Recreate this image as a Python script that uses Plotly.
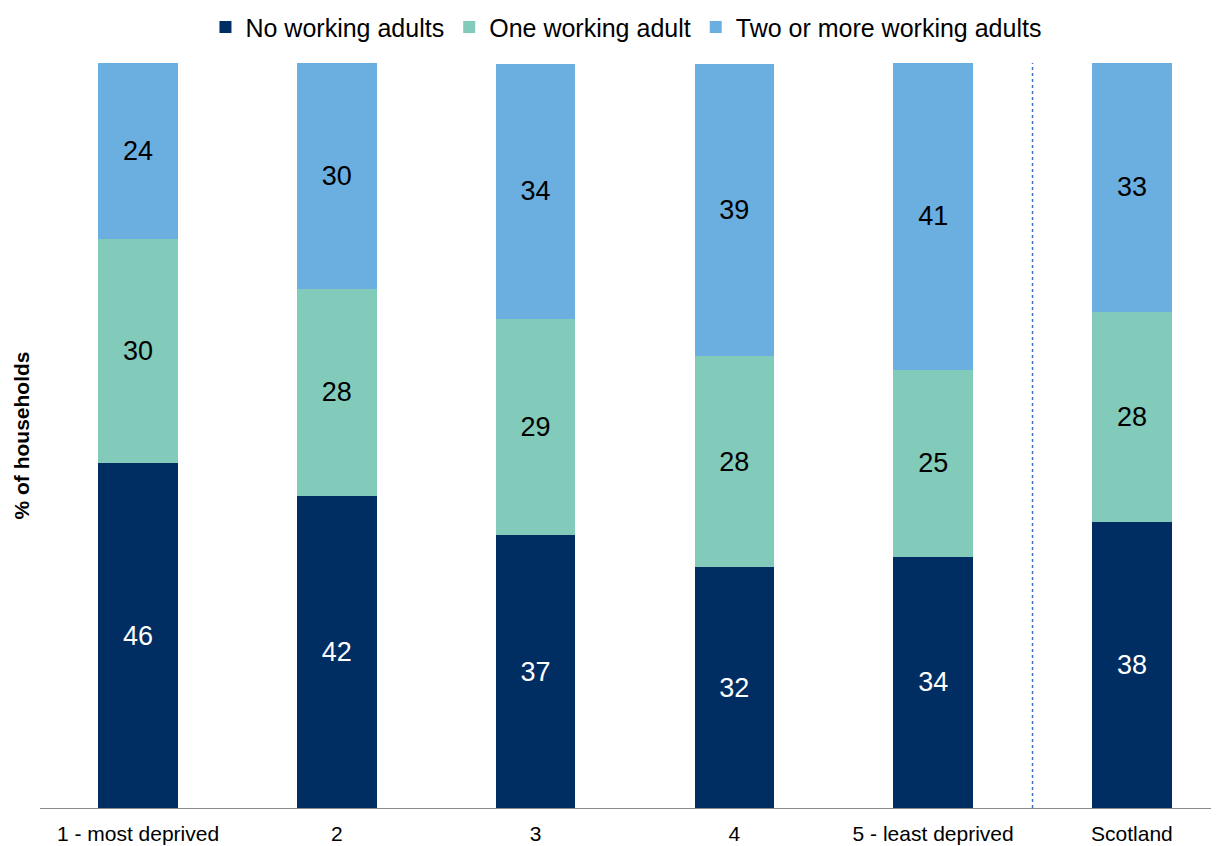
import plotly.graph_objects as go

categories = ["1 - most deprived", "2", "3", "4", "5 - least deprived", "Scotland"]
no_working = [46.3, 41.9, 36.6, 32.3, 33.7, 38.4]
one_working = [30.1, 27.8, 29.1, 28.4, 25.1, 28.2]
two_plus_working = [23.6, 30.3, 34.2, 39.2, 41.2, 33.4]

series = [
    ("No working adults", no_working, "#002D62", "white"),
    ("One working adult", one_working, "#82CAB9", "black"),
    ("Two or more working adults", two_plus_working, "#6AAFE0", "black"),
]

fig = go.Figure()
for name, vals, color, tcolor in series:
    fig.add_trace(go.Bar(
        name=name, x=list(range(len(categories))), y=vals,
        marker=dict(color=color, line=dict(width=0)),
        width=0.40,
        texttemplate="%{y:.0f}", textposition="inside",
        insidetextanchor="middle", textangle=0,
        textfont=dict(family="Liberation Sans, Arial", size=27, color=tcolor),
        constraintext="none",
    ))

fig.update_layout(
    barmode="stack",
    width=1211, height=838,
    margin=dict(l=32, r=0, t=55, b=38, autoexpand=False),
    plot_bgcolor="white", paper_bgcolor="white",
    font=dict(family="Liberation Sans, Arial", color="black"),
    showlegend=True,
    legend=dict(orientation="h", x=0.497, xanchor="center", y=1.048, yanchor="middle",
                font=dict(size=25), itemwidth=30, traceorder="normal",
                itemclick=False),
    xaxis=dict(tickmode="array", tickvals=list(range(len(categories))), ticktext=categories,
               range=[-0.493, 5.438], showline=True, linecolor="#898989", linewidth=1,
               showgrid=False, zeroline=False, ticks="", tickfont=dict(size=21),
               ticklabelstandoff=7, automargin=False),
    yaxis=dict(range=[0, 100], visible=False, showgrid=False, zeroline=False),
    shapes=[dict(type="line", xref="x", yref="y", x0=4.5, x1=4.5, y0=0, y1=100,
                 line=dict(color="#4472C4", width=1.5, dash="dot"))],
    annotations=[dict(text="<b>% of households</b>", xref="paper", yref="paper",
                      x=-0.0153, y=0.5, xanchor="center", yanchor="middle",
                      textangle=-90, showarrow=False, font=dict(size=21))],
)

fig.write_html("out.html")
